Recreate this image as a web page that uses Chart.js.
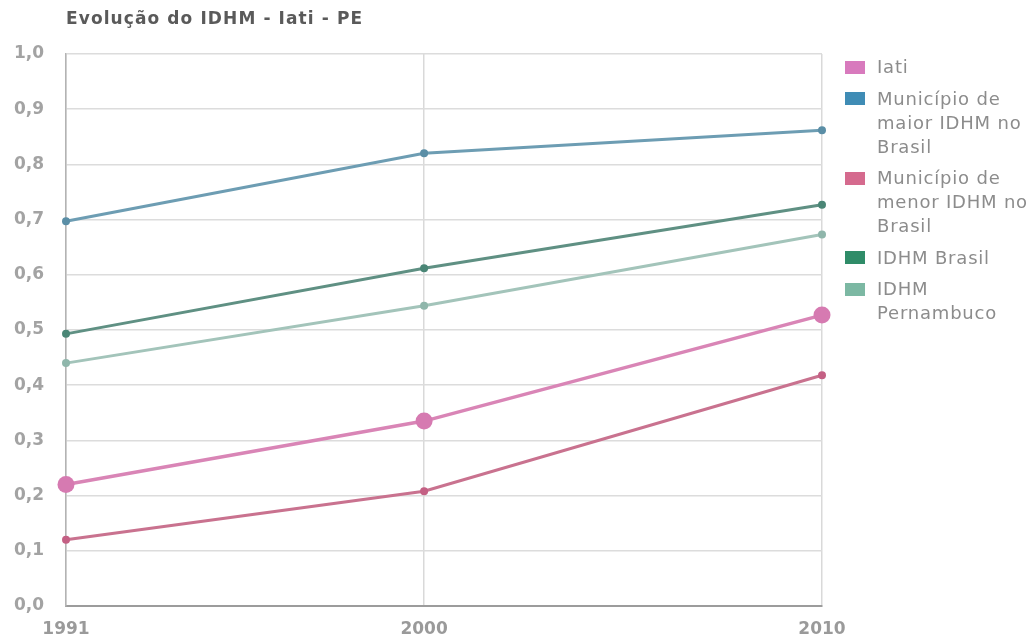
<!DOCTYPE html>
<html lang="pt-BR">
<head>
<meta charset="utf-8">
<title>Evolução do IDHM - Iati - PE</title>
<script src="https://cdn.jsdelivr.net/npm/chart.js@4/dist/chart.umd.min.js"></script>
<style>
  html, body { margin: 0; padding: 0; background: #ffffff; overflow: hidden; }
  #wrap { position: relative; width: 1036px; height: 641px; }
  #chart { position: absolute; left: 0; top: 0; }
  #title {
    position: absolute; left: 66px; top: 8px;
    font: bold 17px "DejaVu Sans", sans-serif; letter-spacing: 1.1px;
    color: #5a5a5a; white-space: nowrap;
  }
  #legend {
    position: absolute; left: 845px; top: 55px; width: 200px;
    font: 18px "DejaVu Sans", sans-serif; letter-spacing: 0.8px;
    color: #8c8c8c; line-height: 24px;
  }
  .item { display: flex; align-items: flex-start; margin-bottom: 7.5px; }
  .box { width: 20px; height: 13px; margin-top: 5.5px; margin-right: 12px; flex: none; }
  .txt { width: 168px; }
</style>
</head>
<body>
<div id="wrap">
  <canvas id="chart" width="1036" height="641"></canvas>
  <div id="title">Evolução do IDHM - Iati - PE</div>
  <div id="legend"></div>
</div>
<script>
// Census years (x axis ticks)
const years = [1991, 2000, 2010];

// Series names
const seriesNames = [
  'Iati',
  'Município de maior IDHM no Brasil',
  'Município de menor IDHM no Brasil',
  'IDHM Brasil',
  'IDHM Pernambuco'
];

// IDHM values per census year
const iati       = [0.220, 0.335, 0.527];
const maior      = [0.697, 0.820, 0.862];
const menor      = [0.120, 0.208, 0.418];
const brasil     = [0.493, 0.612, 0.727];
const pernambuco = [0.440, 0.544, 0.673];

// Y axis range and step
const yMin = 0, yMax = 1, yStep = 0.1;

const seriesValues = [iati, maior, menor, brasil, pernambuco];
const lineColors   = ['#d985b6', '#6d9db3', '#c9728f', '#5f9083', '#a3c4ba'];
const pointColors  = ['#d67ab1', '#5a8ea6', '#c46084', '#4a8676', '#8fb6ab'];
const swatchColors = ['#d87abd', '#3f8cb5', '#d56a8e', '#2f8c68', '#7cb8a3'];
const pointSizes   = [8.5, 4, 4, 4, 4];
const lineWidths   = [3.5, 3, 3, 3, 3];

const datasets = seriesNames.map((name, i) => ({
  label: name,
  data: years.map((y, j) => ({ x: y, y: seriesValues[i][j] })),
  borderColor: lineColors[i],
  backgroundColor: swatchColors[i],
  pointBackgroundColor: pointColors[i],
  pointBorderColor: pointColors[i],
  pointRadius: pointSizes[i],
  pointBorderWidth: 0,
  borderWidth: lineWidths[i],
  tension: 0,
  clip: false
}));

const tickFont = { family: '"DejaVu Sans", sans-serif', size: 17, weight: 'bold' };

const chart = new Chart(document.getElementById('chart'), {
  type: 'line',
  data: { datasets },
  options: {
    responsive: false,
    animation: false,
    layout: { padding: { left: 0, right: 214, top: 54, bottom: 0 } },
    plugins: { legend: { display: false }, title: { display: false }, tooltip: { enabled: false } },
    scales: {
      x: {
        type: 'linear',
        min: years[0],
        max: years[years.length - 1],
        afterBuildTicks(scale) { scale.ticks = years.map(v => ({ value: v })); },
        afterFit(scale) { scale.height = 35; },
        ticks: {
          callback: v => String(v),
          color: '#9a9a9a', font: tickFont, padding: 13, maxRotation: 0, autoSkip: false
        },
        grid: { color: '#d9d9d9', lineWidth: 1.5, drawTicks: false },
        border: { color: '#9c9c9c', width: 2 }
      },
      y: {
        min: yMin,
        max: yMax,
        afterFit(scale) { scale.width = 66; },
        ticks: {
          stepSize: yStep,
          callback: v => v.toFixed(1).replace('.', ','),
          color: '#a3a3a3', font: tickFont, padding: 22
        },
        grid: { color: '#dcdcdc', lineWidth: 1.5, drawTicks: false },
        border: { color: '#b3b3b3', width: 1.5 }
      }
    }
  }
});

// HTML legend with wrapped labels
const legend = document.getElementById('legend');
chart.data.datasets.forEach(ds => {
  const item = document.createElement('div');
  item.className = 'item';
  const box = document.createElement('span');
  box.className = 'box';
  box.style.background = ds.backgroundColor;
  const txt = document.createElement('span');
  txt.className = 'txt';
  txt.textContent = ds.label;
  item.appendChild(box);
  item.appendChild(txt);
  legend.appendChild(item);
});
</script>
</body>
</html>
